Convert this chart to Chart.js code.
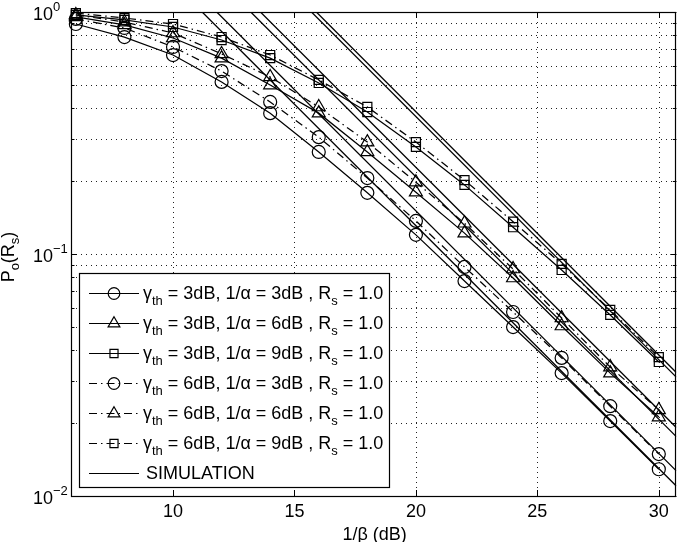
<!DOCTYPE html>
<html>
<head>
<meta charset="utf-8">
<script src="https://cdn.jsdelivr.net/npm/chart.js@4.4.0/dist/chart.umd.min.js"></script>
<style>
  html, body { margin: 0; padding: 0; background: #fff; }
  #wrap { width: 685px; height: 542px; }
</style>
</head>
<body>
<div id="wrap"><canvas id="outage" width="685" height="542"></canvas></div>
<script>
// x positions of the analytical points (1/beta in dB)
const snrDb = [6, 8, 10, 12, 14, 16, 18, 20, 22, 24, 26, 28, 30];

// outage probability
// gamma_th = 3dB
const circ3 = [0.892, 0.788, 0.664, 0.514, 0.382, 0.264, 0.179, 0.120, 0.0773, 0.0499, 0.0322, 0.0204, 0.0129];
const tri3  = [0.954, 0.884, 0.781, 0.645, 0.499, 0.382, 0.264, 0.180, 0.122, 0.0796, 0.0504, 0.0322, 0.0212];
const sq3   = [0.972, 0.927, 0.867, 0.766, 0.645, 0.509, 0.386, 0.277, 0.193, 0.129, 0.0859, 0.0560, 0.0358];
// gamma_th = 6dB
const circ6 = [0.936, 0.859, 0.717, 0.570, 0.425, 0.304, 0.206, 0.137, 0.0884, 0.0576, 0.0372, 0.0235, 0.0149];
const tri6  = [0.972, 0.909, 0.819, 0.671, 0.539, 0.405, 0.290, 0.198, 0.134, 0.0867, 0.0544, 0.0341, 0.0227];
const sq6   = [0.990, 0.944, 0.892, 0.788, 0.664, 0.524, 0.405, 0.290, 0.202, 0.136, 0.0910, 0.0587, 0.0375];

// the straight "SIMULATION" lines: where they leave the top (P = 1) and where they hit the right edge
const simStartDb = [11.2, 11.8, 13.2, 13.6, 15.7, 15.9];
const simEndDb = 30.72;
const simEndP = [0.011, 0.0127, 0.0176, 0.0192, 0.031, 0.0324];

// legend text values
const gammaTh = [3, 3, 3, 6, 6, 6];
const invAlpha = [3, 6, 9, 3, 6, 9];
const rsValue = '1.0';

// axes
const xMin = 5.8, xMax = 30.72;
const xTicks = [10, 15, 20, 25, 30];
const yMajor = [0.01, 0.1, 1];
const yExp = ['-2', '-1', '0'];
const yTicks = [0.01, 0.02, 0.03, 0.04, 0.05, 0.06, 0.07, 0.08, 0.09,
                0.1, 0.2, 0.3, 0.4, 0.5, 0.6, 0.7, 0.8, 0.9, 1];

const FONT = '"Liberation Sans", Arial, Helvetica, sans-serif';
const FS = 18;
const DASHDOT = [8, 4, 1.5, 4];

const curves = [
  { vals: circ3, style: 'circle',   r: 6.5, dash: [] },
  { vals: tri3,  style: 'triangle', r: 7.5, dash: [] },
  { vals: sq3,   style: 'rect',     r: 6.4, dash: [] },
  { vals: circ6, style: 'circle',   r: 6.5, dash: DASHDOT },
  { vals: tri6,  style: 'triangle', r: 7.5, dash: DASHDOT },
  { vals: sq6,   style: 'rect',     r: 6.4, dash: DASHDOT }
];

const datasets = [];
simStartDb.forEach((x0, i) => {
  datasets.push({
    label: 'SIMULATION',
    data: [{ x: x0, y: 1 }, { x: simEndDb, y: simEndP[i] }],
    borderColor: '#000',
    borderWidth: 1.3,
    pointRadius: 0,
    tension: 0,
    fill: false
  });
});
curves.forEach((c, i) => {
  datasets.push({
    label: 'curve' + i,
    data: snrDb.map((x, k) => ({ x: x, y: c.vals[k] })),
    borderColor: '#000',
    borderWidth: 1.25,
    borderDash: c.dash,
    pointStyle: c.style,
    pointRadius: c.r,
    pointBorderColor: '#000',
    pointBackgroundColor: 'rgba(0,0,0,0)',
    pointBorderWidth: 1.2,
    tension: 0,
    fill: false,
    clip: false
  });
});

// draw a marker the same way for the legend
function marker(ctx, style, x, y, r) {
  ctx.beginPath();
  if (style === 'circle') {
    ctx.arc(x, y, r, 0, Math.PI * 2);
  } else if (style === 'triangle') {
    let a = 0;
    ctx.moveTo(x + Math.sin(a) * r, y - Math.cos(a) * r);
    a += Math.PI * 2 / 3;
    ctx.lineTo(x + Math.sin(a) * r, y - Math.cos(a) * r);
    a += Math.PI * 2 / 3;
    ctx.lineTo(x + Math.sin(a) * r, y - Math.cos(a) * r);
    ctx.closePath();
  } else {
    const s = r * Math.SQRT1_2;
    ctx.rect(x - s, y - s, 2 * s, 2 * s);
  }
  ctx.stroke();
}

// text with pieces that may be sub/superscripts: [text, shift]
function richText(ctx, parts, x, y, size) {
  let cx = x;
  parts.forEach(p => {
    const small = p[1] !== 0;
    ctx.font = (small ? Math.round(size * 0.72) : size) + 'px ' + FONT;
    ctx.fillText(p[0], cx, y + p[1]);
    cx += ctx.measureText(p[0]).width;
  });
  return cx - x;
}
function richWidth(ctx, parts, size) {
  let w = 0;
  parts.forEach(p => {
    ctx.font = (p[1] !== 0 ? Math.round(size * 0.72) : size) + 'px ' + FONT;
    w += ctx.measureText(p[0]).width;
  });
  return w;
}

const matlabAxes = {
  id: 'matlabAxes',
  beforeDatasetsDraw(chart) {
    const { ctx, chartArea: a, scales } = chart;
    ctx.save();
    ctx.strokeStyle = '#222';
    ctx.lineWidth = 1;
    ctx.setLineDash([1, 4]);
    xTicks.forEach(v => {
      const px = Math.round(scales.x.getPixelForValue(v)) + 0.5;
      ctx.beginPath(); ctx.moveTo(px, a.top); ctx.lineTo(px, a.bottom); ctx.stroke();
    });
    yTicks.forEach(v => {
      const py = Math.round(scales.y.getPixelForValue(v)) + 0.5;
      ctx.beginPath(); ctx.moveTo(a.left, py); ctx.lineTo(a.right, py); ctx.stroke();
    });
    ctx.restore();
  },
  afterDatasetsDraw(chart) {
    const { ctx, chartArea: a, scales } = chart;
    ctx.save();
    ctx.strokeStyle = '#000';
    ctx.fillStyle = '#000';
    ctx.lineWidth = 1.2;
    ctx.setLineDash([]);

    // box
    ctx.strokeRect(Math.round(a.left) + 0.5, Math.round(a.top) + 0.5,
                   Math.round(a.right - a.left) - 1, Math.round(a.bottom - a.top));

    // inward ticks
    ctx.lineWidth = 1;
    xTicks.forEach(v => {
      const px = Math.round(scales.x.getPixelForValue(v)) + 0.5;
      ctx.beginPath();
      ctx.moveTo(px, a.bottom); ctx.lineTo(px, a.bottom - 6);
      ctx.moveTo(px, a.top); ctx.lineTo(px, a.top + 6);
      ctx.stroke();
    });
    yTicks.forEach(v => {
      const py = Math.round(scales.y.getPixelForValue(v)) + 0.5;
      const len = yMajor.includes(v) ? 6 : 3.5;
      ctx.beginPath();
      ctx.moveTo(a.left, py); ctx.lineTo(a.left + len, py);
      ctx.moveTo(a.right, py); ctx.lineTo(a.right - len, py);
      ctx.stroke();
    });

    // x tick labels
    ctx.font = FS + 'px ' + FONT;
    ctx.textAlign = 'center';
    ctx.textBaseline = 'middle';
    xTicks.forEach(v => {
      ctx.fillText(String(v), scales.x.getPixelForValue(v), a.bottom + 16);
    });

    // y tick labels 10^k
    ctx.textAlign = 'left';
    ctx.textBaseline = 'alphabetic';
    yMajor.forEach((v, i) => {
      const py = scales.y.getPixelForValue(v);
      richText(ctx, [['10', 0], [yExp[i].replace('-', '\u2212'), -9]], 33, py + 8, FS);
    });

    // axis titles
    ctx.font = FS + 'px ' + FONT;
    ctx.textAlign = 'center';
    ctx.fillText('1/\u03b2 (dB)', (a.left + a.right) / 2 + 1, 540);

    ctx.textAlign = 'left';
    const ylab = [['P', 0], ['o', 5], ['(R', 0], ['s', 5], [')', 0]];
    const yw = richWidth(ctx, ylab, FS);
    ctx.save();
    ctx.translate(13.5, (a.top + a.bottom) / 2 + 3);
    ctx.rotate(-Math.PI / 2);
    richText(ctx, ylab, -yw / 2, 0, FS);
    ctx.restore();

    // legend
    const lx = 79.5, ly = 273.5, lw = 310, lh = 214;
    ctx.fillStyle = '#fff';
    ctx.fillRect(lx, ly, lw, lh);
    ctx.lineWidth = 1.2;
    ctx.strokeRect(lx, ly, lw, lh);
    ctx.fillStyle = '#000';
    ctx.textAlign = 'left';
    for (let i = 0; i < 7; i++) {
      const ry = 293 + i * 30;
      ctx.lineWidth = 1.2;
      ctx.setLineDash(i >= 3 && i < 6 ? DASHDOT : []);
      ctx.beginPath(); ctx.moveTo(89, ry + 0.5); ctx.lineTo(139, ry + 0.5); ctx.stroke();
      ctx.setLineDash([]);
      if (i < 6) {
        const c = curves[i];
        marker(ctx, c.style, 114, ry + 0.5, c.r - 0.7);
        richText(ctx, [
          ['\u03b3', 0], ['th', 6],
          [' = ' + gammaTh[i] + 'dB, 1/\u03b1 = ' + invAlpha[i] + 'dB , R', 0], ['s', 6],
          [' = ' + rsValue, 0]
        ], 143, ry + 6, FS);
      } else {
        richText(ctx, [['SIMULATION', 0]], 146, ry + 6, FS);
      }
    }
    ctx.restore();
  }
};

new Chart(document.getElementById('outage'), {
  type: 'line',
  data: { datasets: datasets },
  options: {
    responsive: false,
    animation: false,
    events: [],
    layout: { padding: { left: 71, right: 1, top: 12, bottom: 46 } },
    plugins: { legend: { display: false }, tooltip: { enabled: false } },
    scales: {
      x: {
        type: 'linear', min: xMin, max: xMax,
        afterBuildTicks: s => { s.ticks = xTicks.map(v => ({ value: v })); },
        ticks: { display: false },
        grid: { display: false, drawTicks: false },
        border: { display: false }
      },
      y: {
        type: 'logarithmic', min: 0.01, max: 1,
        afterBuildTicks: s => { s.ticks = yTicks.map(v => ({ value: v })); },
        ticks: { display: false },
        grid: { display: false, drawTicks: false },
        border: { display: false }
      }
    }
  },
  plugins: [matlabAxes]
});
</script>
</body>
</html>
